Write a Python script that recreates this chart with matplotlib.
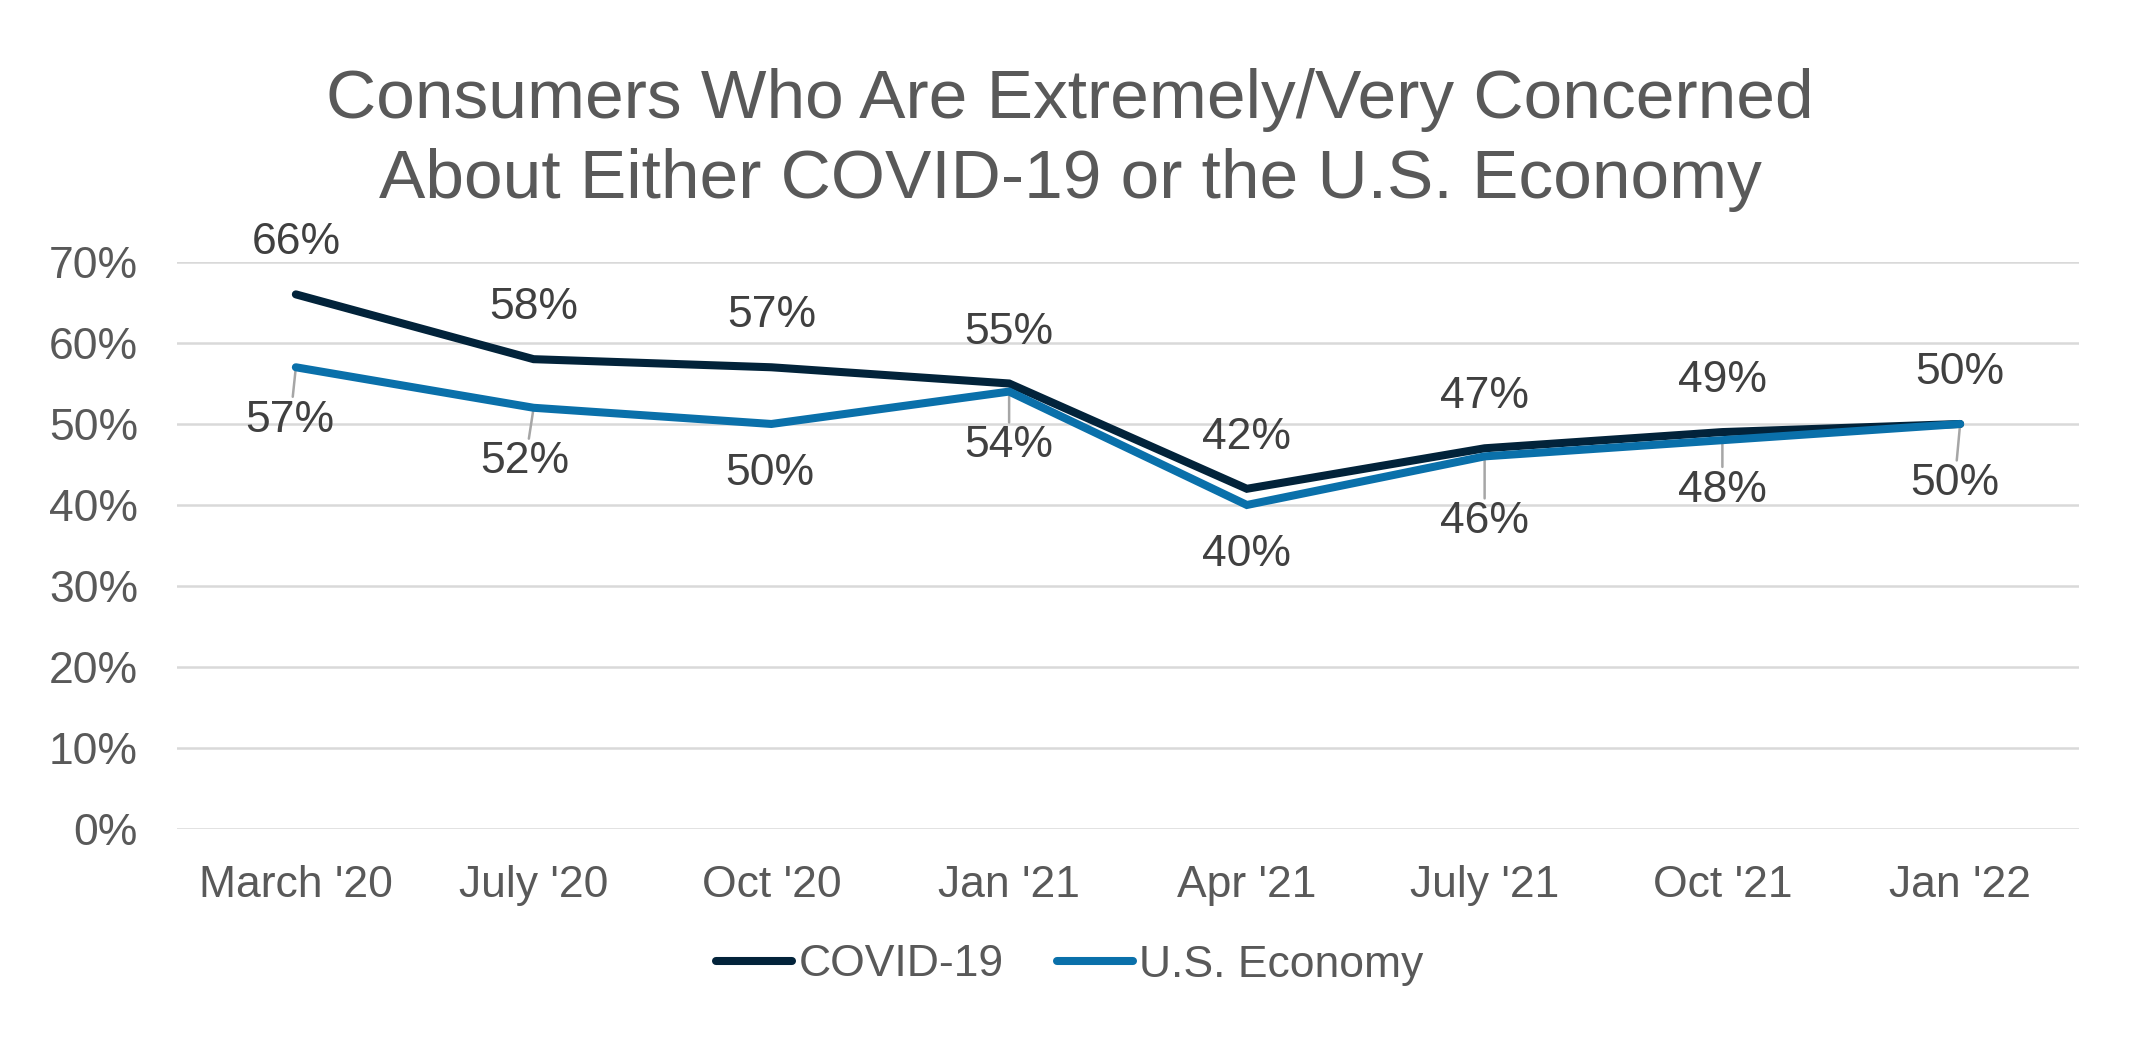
import matplotlib
matplotlib.use("Agg")
import matplotlib.pyplot as plt

categories = ["March '20", "July '20", "Oct '20", "Jan '21", "Apr '21", "July '21", "Oct '21", "Jan '22"]
covid = [66, 58, 57, 55, 42, 47, 49, 50]
economy = [57, 52, 50, 54, 40, 46, 48, 50]
yticks = [0, 10, 20, 30, 40, 50, 60, 70]
series_names = ["COVID-19", "U.S. Economy"]
title = "Consumers Who Are Extremely/Very Concerned\nAbout Either COVID-19 or the U.S. Economy"

# label offsets in points (style)
covid_off = [(0, 37)] * 8
econ_off = [(-4, -38), (-6, -39), (-1, -36), (0, -39), (0, -36), (0, -47), (0, -36), (-4, -43)]
econ_leader = [True, True, False, True, False, True, True, True]

plt.rcParams['font.family'] = ['Liberation Sans', 'DejaVu Sans']

C_COVID = "#02233A"
C_ECON = "#0A70AA"
TXT = "#595959"
LBL = "#404040"

fig = plt.figure(figsize=(21.4, 10.4), dpi=100)
ax = fig.add_axes([0.0827, 0.2029, 0.9715 - 0.0827, 0.7481 - 0.2029])

x = list(range(len(categories)))
ax.plot(x, covid, color=C_COVID, lw=5.8, solid_capstyle='round', solid_joinstyle='miter',
        label=series_names[0], zorder=3)
ax.plot(x, economy, color=C_ECON, lw=5.8, solid_capstyle='round', solid_joinstyle='miter',
        label=series_names[1], zorder=3)

for i, v in enumerate(covid):
    ax.annotate(f"{v}%", (i, v), xytext=covid_off[i], textcoords='offset points',
                ha='center', va='center', fontsize=32, color=LBL)
for i, v in enumerate(economy):
    ap = None
    if econ_leader[i]:
        ap = dict(arrowstyle='-', color='#A6A6A6', lw=1.8, shrinkA=0, shrinkB=0)
    ax.annotate(f"{v}%", (i, v), xytext=econ_off[i], textcoords='offset points',
                ha='center', va='center', fontsize=32, color=LBL, arrowprops=ap, zorder=2)

ax.set_xlim(-0.5, len(categories) - 0.5)
ax.set_ylim(0, 70)
ax.set_yticks(yticks)
ax.set_yticklabels([f"{t}%" for t in yticks])
ax.set_xticks(x)
ax.set_xticklabels(categories)
ax.tick_params(axis='both', length=0, labelsize=32, colors=TXT)
ax.tick_params(axis='x', pad=26)
ax.tick_params(axis='y', pad=28)
ax.grid(axis='y', color='#D9D9D9', lw=1.8)
ax.set_axisbelow(True)
for s in ax.spines.values():
    s.set_visible(False)

fig.suptitle(title, x=0.5, y=0.935, va='top', fontsize=50, color=TXT, linespacing=1.33)

fig.legend(loc='center', bbox_to_anchor=(0.5, 1 - 965 / 1040), ncol=2, frameon=False,
           fontsize=32, labelcolor=TXT, handlelength=1.7, handletextpad=0.15, columnspacing=1.2)

fig.savefig("out.png", dpi=100, facecolor='white')
